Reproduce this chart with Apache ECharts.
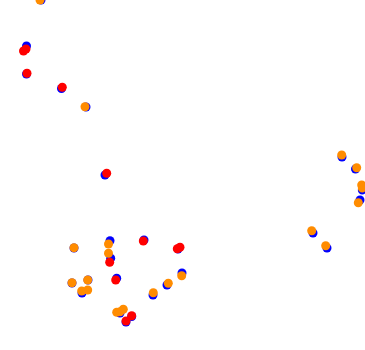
<!DOCTYPE html>
<html><head><meta charset="utf-8">
<script src="https://cdn.jsdelivr.net/npm/echarts@6/dist/echarts.min.js"></script>
<style>html,body{margin:0;padding:0;background:#fff}#c{width:365px;height:350px}</style>
</head><body><div id="c"></div>
<script>
var blueData = [[41,350],[26.5,304],[26.5,276],[61.5,261.5],[86,243],[105,175],[74,102],[110,109.3],[110.7,91.7],[144,110],[178,101],[72,67],[88,70],[82,57],[116.7,71.7],[167,65],[182,77],[153,55],[120,37],[131.7,33.5],[126,28],[342,193],[355.5,181],[362.3,160],[360,150],[313,117],[327,102]];
var redData = [[26,301],[23.5,299],[27,276.7],[62.3,262.7],[106.7,176.7],[109.7,87.7],[143.3,109],[177.3,101.3],[180,102.7],[115.7,70],[131.7,34.3],[126,29]];
var orangeData = [[40,350],[85,243.3],[74,102.3],[108.5,106],[108.5,96.7],[72,67.3],[87.7,70],[87.7,60],[81.7,59],[168.3,66.7],[181.7,74.3],[153.3,57.3],[116.7,37.7],[123.3,40.7],[120,38.3],[341.7,195],[356.7,182.3],[361.7,165],[362.3,162],[358.3,147.3],[311.7,119.3],[325.7,104.3]];
var chart = echarts.init(document.getElementById('c'));
chart.setOption({
  animation:false,
  grid:{left:0,right:0,top:0,bottom:0},
  xAxis:{type:'value',min:0,max:365,show:false},
  yAxis:{type:'value',min:0,max:350,show:false},
  series:[
    {type:'scatter',data:blueData,symbolSize:9,itemStyle:{color:'#0000ff',opacity:1}},
    {type:'scatter',data:redData,symbolSize:9,itemStyle:{color:'#ff0000',opacity:1}},
    {type:'scatter',data:orangeData,symbolSize:9,itemStyle:{color:'#ff8c00',opacity:1}}
  ]
});
</script></body></html>
